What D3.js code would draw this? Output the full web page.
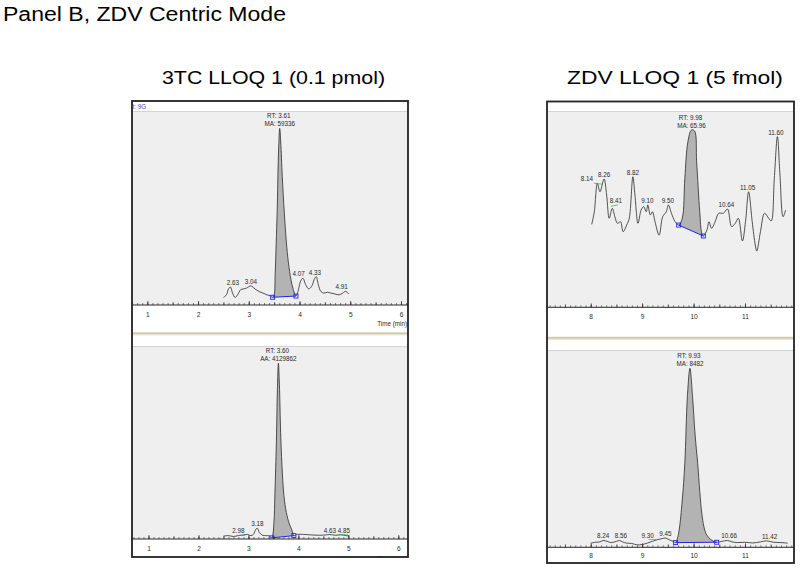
<!DOCTYPE html>
<html><head><meta charset="utf-8">
<script src="https://cdn.jsdelivr.net/npm/d3@7"></script>
<style>
body{margin:0;background:#fff}
svg{display:block}
text{font-family:"Liberation Sans",Arial,Helvetica,sans-serif}
</style>
</head><body>
<svg id="c" width="800" height="571"></svg>
<script>
// ---------- DATA ----------
// 3TC LLOQ 1, upper trace (MA: 59336)
const tcMaTime = [2.50,2.56,2.60,2.64,2.68,2.73,2.78,2.84,2.90,2.96,3.04,3.12,3.20,3.28,3.36,3.42,3.47,3.50,3.52,3.54,3.56,3.585,3.61,3.63,3.66,3.70,3.74,3.78,3.83,3.87,3.93,3.97,4.01,4.04,4.07,4.12,4.18,4.24,4.29,4.33,4.37,4.42,4.48,4.55,4.62,4.70,4.78,4.85,4.91,4.97];
const tcMaInt  = [1.5,3,6.5,7.5,4,1.5,3,6,6.5,7,8.2,6.5,5,4,3,2.5,1.6,3,15,33,52,85,100,92,72,51,34,22,12,6.8,2.3,5,10,12,12.6,9,6.5,8,12,13.6,9,5,4,4.5,4,3.5,3,4,5,3.5];
const tcMaLabels = ["2.63","3.04","4.07","4.33","4.91"];
const tcMaPeak = ["RT: 3.61","MA: 59336"];
const tcMaMarkers = [3.47, 3.93];

// 3TC LLOQ 1, lower trace (AA: 4129862)
const tcAaTime = [2.50,2.60,2.70,2.80,2.90,2.98,3.05,3.10,3.15,3.18,3.22,3.28,3.36,3.42,3.47,3.51,3.53,3.56,3.58,3.60,3.62,3.645,3.67,3.71,3.76,3.82,3.87,3.91,3.98,4.10,4.25,4.40,4.55,4.63,4.75,4.85,4.95,5.02];
const tcAaInt  = [0.5,0.8,0.3,0.8,1.2,1.5,0.8,1.5,4.5,5,2.5,1,0.8,0.6,-0.5,8,25,55,85,100,88,60,42,24,14,7.5,4,0.8,1.5,1.5,1.2,1.0,1.2,1.4,1.0,1.3,0.8,0.6];
const tcAaLabels = ["2.98","3.18","4.63","4.85"];
const tcAaPeak = ["RT: 3.60","AA: 4129862"];
const tcAaMarkers = [3.47, 3.91];

// ZDV LLOQ 1, upper trace (MA: 65.96)
const zdvMaTime = [8.02,8.07,8.13,8.18,8.26,8.31,8.36,8.42,8.47,8.52,8.58,8.63,8.70,8.75,8.82,8.86,8.92,8.98,9.03,9.08,9.11,9.16,9.20,9.25,9.33,9.40,9.47,9.51,9.57,9.64,9.71,9.78,9.83,9.89,9.96,10.02,10.06,10.12,10.16,10.19,10.26,10.30,10.35,10.42,10.49,10.58,10.66,10.74,10.81,10.87,10.95,11.01,11.07,11.14,11.20,11.23,11.30,11.38,11.46,11.51,11.57,11.63,11.68,11.74,11.79];
const zdvMaInt  = [44.3,51.7,68.4,63.4,70.9,61.5,47.9,53.7,48.8,44.9,45.9,40,43.9,47.9,72.2,61.5,44.9,52.7,54.7,51.7,55.7,49.8,51.7,45.9,38,48.8,51.7,55.7,50.8,45.9,43.9,47.9,71.3,92.7,99.6,99,81,51.7,39,37.5,41,45.9,42,45.9,50.8,50.8,53.3,43,44.9,47.9,34.6,45.9,63.4,45.9,32.2,28.7,40,50.8,47.9,46.3,71.3,95.7,73.2,48.8,52.7];
const zdvMaLabels = ["8.14","8.26","8.41","8.82","9.10","9.50","10.64","11.05","11.60"];
const zdvMaPeak = ["RT: 9.98","MA: 65.96"];
const zdvMaMarkers = [9.71, 10.19];

// ZDV LLOQ 1, lower trace (MA: 8482)
const zdvMbTime = [8.00,8.10,8.18,8.24,8.32,8.40,8.50,8.56,8.62,8.70,8.80,8.90,9.00,9.10,9.20,9.30,9.38,9.45,9.52,9.60,9.65,9.68,9.72,9.78,9.83,9.88,9.93,9.98,10.03,10.08,10.12,10.16,10.20,10.24,10.30,10.36,10.45,10.55,10.66,10.75,10.85,11.00,11.15,11.30,11.42,11.55,11.70,11.83];
const zdvMbInt  = [0.5,1,1.2,2,1.5,0.8,1.5,2,1.2,0.5,0.3,-0.5,-0.3,0.5,1.5,2.5,3,3.4,2.5,1.5,0.8,2.5,8,25,46,84,100,84,62,46,30,17.5,10,6,3.5,2,1,1.5,2,1.2,0.8,1,0.6,1.2,1.8,1,0.8,0.5];
const zdvMbLabels = ["8.24","8.56","9.30","9.45","10.66","11.42"];
const zdvMbPeak = ["RT: 9.93","MA: 8482"];
const zdvMbMarkers = [9.65, 10.45];

const leftTicks = [1,2,3,4,5,6];
const rightTicks = [8,9,10,11];
const titleMain = "Panel B, ZDV Centric Mode";
const titleLeft = "3TC LLOQ 1 (0.1 pmol)";
const titleRight = "ZDV LLOQ 1 (5 fmol)";

// ---------- DRAW ----------
const svg = d3.select("#c");
const INK = "#2a2a2a";
const FS = 6.3;
let clipId = 0;

function title(txt, x, y, size, len){
  svg.append("text").attr("x",x).attr("y",y).attr("font-size",size)
    .attr("textLength",len).attr("lengthAdjust","spacingAndGlyphs")
    .attr("fill","#000").text(txt);
}
title(titleMain, 3, 21, 20, 283);
title(titleLeft, 162, 84, 19, 223);
title(titleRight, 567, 83.5, 19, 216);

function drawPanel(p){
  const g = svg.append("g");
  const x = d3.scaleLinear().domain(p.xd).range(p.xr);
  const y = d3.scaleLinear().domain([0,100]).range(p.yr);
  g.append("rect").attr("x",p.x0).attr("y",p.plotTop).attr("width",p.x1-p.x0)
    .attr("height",p.axisY-p.plotTop).attr("fill","#efefef");
  g.append("line").attr("x1",p.x0).attr("x2",p.x1).attr("y1",p.plotTop+0.5).attr("y2",p.plotTop+0.5)
    .attr("stroke","#d4d4d4").attr("stroke-width",1);
  const id = "clip"+(clipId++);
  g.append("clipPath").attr("id",id).append("rect")
    .attr("x",p.x0).attr("y",p.plotTop).attr("width",p.x1-p.x0).attr("height",p.axisY-p.plotTop);
  const pg = g.append("g").attr("clip-path",`url(#${id})`);
  const pts = p.t.map((t,i)=>[t,p.v[i]]);
  const iS = p.t.indexOf(p.m[0]), iE = p.t.indexOf(p.m[1]);
  const v0 = p.v[iS], v1 = p.v[iE];
  const base = t => v0 + (v1-v0)*(t-p.m[0])/(p.m[1]-p.m[0]);
  const curve = d3.curveCatmullRom.alpha(0.5);
  const seg = pts.slice(iS, iE+1);
  pg.append("path").datum(seg)
    .attr("d", d3.area().x(d=>x(d[0])).y0(d=>y(base(d[0]))).y1(d=>y(d[1])).curve(curve))
    .attr("fill","#b3b3b3");
  pg.append("path").datum(pts)
    .attr("d", d3.line().x(d=>x(d[0])).y(d=>y(d[1])).curve(curve))
    .attr("fill","none").attr("stroke",INK).attr("stroke-width",0.8);
  pg.append("line").attr("x1",x(p.m[0])).attr("y1",y(v0)).attr("x2",x(p.m[1])).attr("y2",y(v1))
    .attr("stroke","#2222ee").attr("stroke-width",1);
  [[p.m[0],v0],[p.m[1],v1]].forEach(d=>{
    pg.append("rect").attr("x",x(d[0])-2).attr("y",y(d[1])-2).attr("width",4).attr("height",4)
      .attr("fill","none").attr("stroke","#2222ee").attr("stroke-width",0.9);
  });
  const zeroY = y(0);
  p.labels.forEach(lab=>{
    const t = +lab;
    let vmax = -Infinity;
    pts.forEach(d=>{ if (Math.abs(d[0]-t) <= 0.045) vmax = Math.max(vmax, d[1]); });
    let ly = Math.min(y(vmax)-2, zeroY-3);
    let lx = x(t);
    const n = (p.nudge||{})[lab];
    if (n){
      lx += n[0]; ly += n[1];
      if (n.length > 2)
        pg.append("line").attr("x1",lx+n[2]).attr("y1",ly+n[3]).attr("x2",lx+n[4]).attr("y2",ly+n[5])
          .attr("stroke","#3aaa3a").attr("stroke-width",0.7);
    }
    pg.append("text").attr("x",lx).attr("y",ly).attr("text-anchor","middle")
      .attr("font-size",FS).attr("fill",INK).text(lab);
  });
  let imax = d3.maxIndex(p.v);
  const px = x(p.t[imax]) - 1, py = y(p.v[imax]);
  pg.append("text").attr("x",px).attr("y",py-10).attr("text-anchor","middle")
    .attr("font-size",FS).attr("fill",INK).text(p.peak[0]);
  pg.append("text").attr("x",px+1).attr("y",py-2).attr("text-anchor","middle")
    .attr("font-size",FS).attr("fill",INK).text(p.peak[1]);
  const ax = g.append("g").attr("transform",`translate(0,${p.axisY})`);
  ax.append("line").attr("x1",p.x0).attr("x2",p.x1).attr("stroke",INK).attr("stroke-width",1);
  const lo = x.invert(p.x0), hi = x.invert(p.x1);
  const minor = d3.range(Math.ceil(lo*10), Math.floor(hi*10)+1).map(k=>k/10);
  ax.append("g").call(d3.axisBottom(x).tickValues(minor).tickSize(-2).tickFormat(""))
    .call(s=>s.select(".domain").remove())
    .call(s=>s.selectAll("line").attr("stroke",INK).attr("stroke-width",0.6));
  ax.append("g").call(d3.axisBottom(x).tickValues(minor.filter(v=>Math.abs(v*2-Math.round(v*2))<1e-6)).tickSize(-3).tickFormat(""))
    .call(s=>s.select(".domain").remove())
    .call(s=>s.selectAll("line").attr("stroke",INK).attr("stroke-width",0.6));
  ax.append("g").call(d3.axisBottom(x).tickValues(p.ticks).tickSize(-4).tickPadding(p.pad).tickFormat(d3.format("d")))
    .call(s=>s.select(".domain").remove())
    .call(s=>s.selectAll("line").attr("stroke",INK).attr("stroke-width",0.7))
    .call(s=>s.selectAll("text").attr("font-size",6.6).attr("fill",INK)
      .attr("font-family",'"Liberation Sans",Arial,sans-serif'));
  return {x,y,g};
}

const L = {x0:132, x1:408};
drawPanel({x0:L.x0,x1:L.x1,plotTop:111,axisY:305,xd:[1,6],xr:[147.3,401],yr:[300,128.3],
  t:tcMaTime,v:tcMaInt,m:tcMaMarkers,labels:tcMaLabels,peak:tcMaPeak,ticks:leftTicks,pad:7,
  nudge:{"2.63":[3,0],"4.07":[-4.5,0],"4.33":[-1.5,0],"4.91":[-4,0]}});
drawPanel({x0:L.x0,x1:L.x1,plotTop:346,axisY:539,xd:[1,6],xr:[148.5,398.3],yr:[537,363.3],
  t:tcAaTime,v:tcAaInt,m:tcAaMarkers,labels:tcAaLabels,peak:tcAaPeak,ticks:leftTicks,pad:7,
  nudge:{"2.98":[-9,1,-2,2,7,2],"4.85":[3,0,-6,2,4,2]}});
const R = {x0:547, x1:794};
drawPanel({x0:R.x0,x1:R.x1,plotTop:111,axisY:307.3,xd:[8,11],xr:[590.7,745],yr:[300,129.3],
  t:zdvMaTime,v:zdvMaInt,m:zdvMaMarkers,labels:zdvMaLabels,peak:zdvMaPeak,ticks:rightTicks,pad:7,
  nudge:{"8.14":[-11,0,7,2,16,3],"8.41":[4,-3,-5,3,2,1.5]}});
drawPanel({x0:R.x0,x1:R.x1,plotTop:350,axisY:547.3,xd:[8,11],xr:[590.7,745],yr:[544,368.3],
  t:zdvMbTime,v:zdvMbInt,m:zdvMbMarkers,labels:zdvMbLabels,peak:zdvMbPeak,ticks:rightTicks,pad:6,
  nudge:{"9.30":[-10,0.5,1,1.5,9,1.5],"8.56":[1.5,0],"10.66":[1.7,0],"11.42":[3,0]}});

svg.append("rect").attr("x",L.x0).attr("y",332.3).attr("width",L.x1-L.x0).attr("height",2).attr("fill","#d3cba9");
svg.append("line").attr("x1",L.x0).attr("x2",L.x1).attr("y1",334.8).attr("y2",334.8).attr("stroke","#c8c8c8").attr("stroke-width",0.6);
svg.append("rect").attr("x",R.x0).attr("y",336.8).attr("width",R.x1-R.x0).attr("height",2).attr("fill","#d3cba9");
svg.append("line").attr("x1",R.x0).attr("x2",R.x1).attr("y1",339.3).attr("y2",339.3).attr("stroke","#c8c8c8").attr("stroke-width",0.6);

svg.append("text").attr("x",407).attr("y",326).attr("text-anchor","end").attr("font-size",FS).attr("fill",INK).text("Time (min)");
svg.append("clipPath").attr("id","cb").append("rect").attr("x",L.x0).attr("y",540).attr("width",L.x1-L.x0).attr("height",17);
svg.append("text").attr("clip-path","url(#cb)").attr("x",407).attr("y",561).attr("text-anchor","end").attr("font-size",FS).attr("fill",INK).text("Time (min)");

svg.append("rect").attr("x",L.x0).attr("y",101).attr("width",L.x1-L.x0).attr("height",456)
  .attr("fill","none").attr("stroke","#222").attr("stroke-width",1.8);
svg.append("rect").attr("x",R.x0).attr("y",101.5).attr("width",R.x1-R.x0).attr("height",461.5)
  .attr("fill","none").attr("stroke","#222").attr("stroke-width",1.8);
svg.append("text").attr("x",132.5).attr("y",108.5).attr("font-size",FS).attr("fill","#4a4ab0").text("t: 9G");
</script>
</body></html>
